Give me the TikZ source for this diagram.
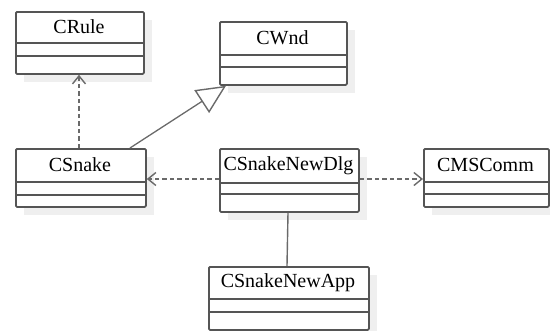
\documentclass[tikz,border=0pt]{standalone}
\usepackage{fontspec}
\setmainfont{Liberation Serif}
\usetikzlibrary{arrows.meta}
\definecolor{boxc}{HTML}{555555}
\definecolor{linec}{HTML}{6A6A6A}
\definecolor{shadowc}{HTML}{EFEFEF}
\tikzset{
  classbox/.style={draw=boxc, line width=1.8pt, rounded corners=1.2pt, fill=white, inner sep=0pt, anchor=north west},
  classname/.style={font=\fontsize{20}{24}\selectfont, inner sep=0pt, text=black},
  sepline/.style={draw=boxc, line width=1.6pt},
  dep/.style={draw=linec, line width=2pt, dash pattern=on 4.5pt off 3pt, -{Straight Barb[length=8pt,width=13pt,line width=1.4pt]}},
  gen/.style={draw=linec, line width=1.3pt, -{Triangle[open,length=29pt,width=27pt,line width=1.4pt,fill=white]}},
  assoc/.style={draw=linec, line width=1.4pt}
}
\newcommand\umlclass[8]{% name, text, left, right, top, sep1, sep2, bottom
  \fill[shadowc] (#3+9,#5+9) rectangle (#4+9,#8+9);
  \node[classbox, minimum width={#4pt-#3pt}, minimum height={#8pt-#5pt}] (#1) at (#3,#5) {};
  \draw[sepline] (#3,#6) -- (#4,#6);
  \draw[sepline] (#3,#7) -- (#4,#7);
  \node[classname] (#1-name) at ({(#3+#4)/2},{(#5+#6)/2}) {#2};
}
\begin{document}
\begin{tikzpicture}[x=1pt,y=-1pt]
\useasboundingbox (0,0) rectangle (550,330);
\umlclass{rule}{CRule}{15}{143}{11}{43}{56}{73}
\umlclass{wnd}{CWnd}{219}{346}{21}{55}{67}{84}
\umlclass{snake}{CSnake}{15}{145}{148}{182}{195}{206}
\umlclass{dlg}{CSnakeNewDlg}{219}{358}{148}{183}{194}{211}
\umlclass{comm}{CMSComm}{423}{548}{148}{182}{194}{206}
\umlclass{app}{CSnakeNewApp}{208}{368}{266}{299}{312}{329}
% connectors
\draw[dep] ([xshift=64pt]snake.north west) -- ([xshift=64pt]rule.south west);
\draw[gen] ([xshift=115pt]snake.north west) -- ([xshift=7pt]wnd.south west);
\draw[dep] ([yshift=-31pt]dlg.north west) -- ([yshift=-31pt]snake.north east);
\draw[dep] ([yshift=-31pt]dlg.north east) -- ([yshift=-31pt]comm.north west);
\draw[assoc] ([xshift=69pt]dlg.south west) -- ([xshift=79pt]app.north west);
\end{tikzpicture}
\end{document}
